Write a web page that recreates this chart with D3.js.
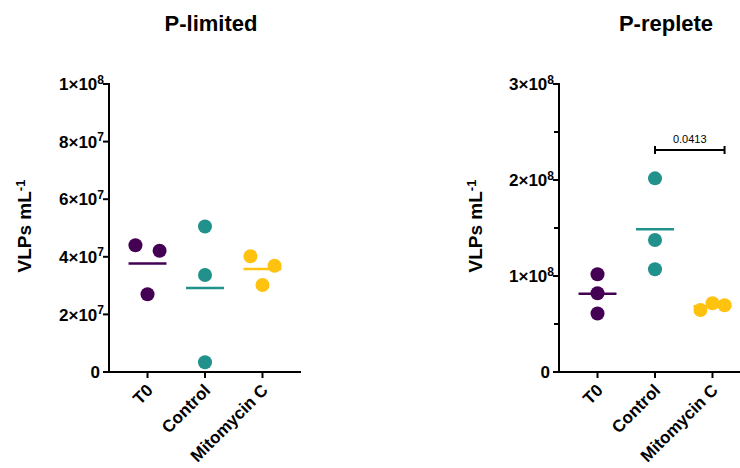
<!DOCTYPE html>
<html><head><meta charset="utf-8">
<script src="https://cdn.jsdelivr.net/npm/d3@7"></script>
<style>
html,body{margin:0;padding:0;background:#fff;}
svg{display:block;font-family:"Liberation Sans",Arial,Helvetica,sans-serif;}
</style></head>
<body>
<svg id="chart" width="740" height="468"></svg>
<script>
const categories = ["T0", "Control", "Mitomycin C"];
const colors = ["#440154", "#21918c", "#ffc20e"];

const limitedValues = {
  "T0": [4.40e7, 4.21e7, 2.70e7],
  "Control": [5.05e7, 3.37e7, 0.34e7],
  "Mitomycin C": [4.02e7, 3.69e7, 3.02e7]
};
const limitedJitter = {"T0": [-1, 1, 0], "Control": [0, 0, 0], "Mitomycin C": [-1, 1, 0]};
const limitedTicks = [0, 2e7, 4e7, 6e7, 8e7, 1e8];
const limitedTickLabels = [["0",""],["2×10","7"],["4×10","7"],["6×10","7"],["8×10","7"],["1×10","8"]];

const repleteValues = {
  "T0": [1.018e8, 0.82e8, 0.61e8],
  "Control": [2.017e8, 1.375e8, 1.07e8],
  "Mitomycin C": [0.646e8, 0.716e8, 0.695e8]
};
const repleteJitter = {"T0": [0, 0, 0], "Control": [0, 0, 0], "Mitomycin C": [-1, 0, 1]};
const repleteTicks = [0, 1e8, 2e8, 3e8];
const repleteMinor = [0.5e8, 1.5e8, 2.5e8];
const repleteTickLabels = [["0",""],["1×10","8"],["2×10","8"],["3×10","8"]];

const sigComparison = {from: "Control", to: "Mitomycin C", value: 2.3125e8, label: "0.0413"};

const svg = d3.select("#chart");

function panel(opts) {
  const g = svg.append("g");
  const y = d3.scaleLinear().domain(opts.domain).range([372, 84]);
  const x = d3.scalePoint().domain(categories).range([opts.x0, opts.x1]).padding(0.67);
  const step = x.step();
  const jw = step * 0.21;

  g.append("text").attr("x", opts.titleX).attr("y", 31).attr("text-anchor", "middle")
    .attr("font-size", 22).attr("font-weight", "bold").text(opts.title);

  const ya = g.append("g").attr("transform", `translate(${opts.x0},0)`);
  ya.append("line").attr("y1", y(opts.domain[0]) + 1).attr("y2", y(opts.domain[1]) - 1)
    .attr("stroke", "#000").attr("stroke-width", 2);
  opts.ticks.forEach((t, i) => {
    ya.append("line").attr("x1", -6).attr("x2", 0).attr("y1", y(t)).attr("y2", y(t))
      .attr("stroke", "#000").attr("stroke-width", 2);
    const lab = opts.tickLabels[i];
    const tx = ya.append("text").attr("x", lab[1] ? -5 : -9).attr("y", y(t)).attr("dy", "0.36em")
      .attr("text-anchor", "end").attr("font-size", 17).attr("font-weight", "bold");
    tx.append("tspan").text(lab[0]);
    if (lab[1]) tx.append("tspan").attr("dy", "-0.55em").attr("font-size", 12).text(lab[1]);
  });
  (opts.minor || []).forEach(t => {
    ya.append("line").attr("x1", -5).attr("x2", 0).attr("y1", y(t)).attr("y2", y(t))
      .attr("stroke", "#000").attr("stroke-width", 2);
  });

  const yl = g.append("text").attr("transform", `translate(${opts.labelX},226) rotate(-90)`)
    .attr("text-anchor", "middle").attr("font-size", 19).attr("font-weight", "bold");
  yl.append("tspan").text("VLPs mL");
  yl.append("tspan").attr("dy", "-0.45em").attr("font-size", 13).text("-1");

  const xa = g.append("g").attr("transform", "translate(0,372)");
  xa.append("line").attr("x1", opts.x0 - 1).attr("x2", opts.x1).attr("stroke", "#000").attr("stroke-width", 2);
  categories.forEach(c => {
    xa.append("line").attr("x1", x(c)).attr("x2", x(c)).attr("y1", 0).attr("y2", 6)
      .attr("stroke", "#000").attr("stroke-width", 2);
    xa.append("text").attr("transform", `translate(${x(c) - 2},${11}) rotate(-45)`)
      .attr("text-anchor", "end").attr("dy", "0.7em").attr("font-size", 17).attr("font-weight", "bold")
      .text(c);
  });

  categories.forEach((c, ci) => {
    const vals = opts.values[c];
    const mean = d3.mean(vals);
    g.append("line").attr("x1", x(c) - step * 0.33).attr("x2", x(c) + step * 0.33)
      .attr("y1", y(mean)).attr("y2", y(mean)).attr("stroke", colors[ci]).attr("stroke-width", 2.5);
    g.selectAll(null).data(vals).enter().append("circle")
      .attr("cx", (d, i) => x(c) + opts.jitter[c][i] * jw)
      .attr("cy", d => y(d)).attr("r", 7).attr("fill", colors[ci]);
  });

  if (opts.sig) {
    const s = opts.sig;
    const xa1 = x(s.from), xa2 = x(s.to) + jw;
    const sy = y(s.value);
    g.append("line").attr("x1", xa1).attr("x2", xa2).attr("y1", sy).attr("y2", sy).attr("stroke", "#000").attr("stroke-width", 2);
    [xa1, xa2].forEach(xx => g.append("line").attr("x1", xx).attr("x2", xx).attr("y1", sy - 4).attr("y2", sy + 4).attr("stroke", "#000").attr("stroke-width", 2));
    g.append("text").attr("x", (xa1 + xa2) / 2).attr("y", sy - 7).attr("text-anchor", "middle")
      .attr("font-size", 11).text(s.label);
  }
}

panel({title: "P-limited", titleX: 211, x0: 109, x1: 301, domain: [0, 1e8], ticks: limitedTicks,
  tickLabels: limitedTickLabels, values: limitedValues, jitter: limitedJitter, labelX: 31});
panel({title: "P-replete", titleX: 666, x0: 559, x1: 751, domain: [0, 3e8], ticks: repleteTicks, minor: repleteMinor,
  tickLabels: repleteTickLabels, values: repleteValues, jitter: repleteJitter, labelX: 482, sig: sigComparison});
</script>
</body></html>
